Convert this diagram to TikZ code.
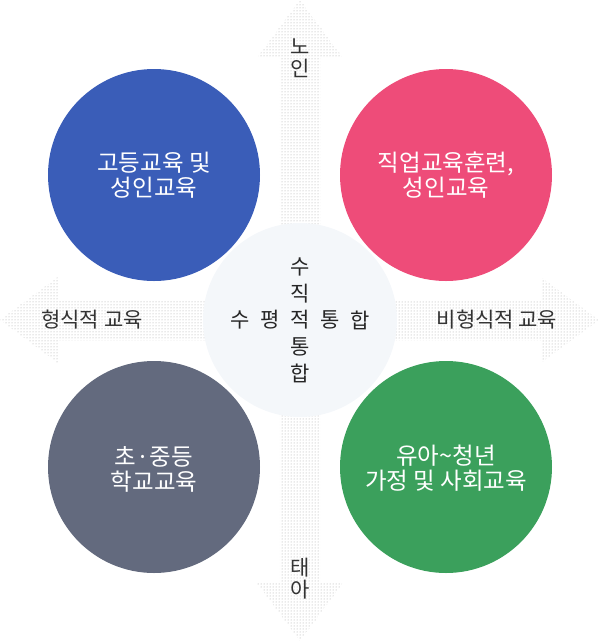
\documentclass[tikz,border=0pt]{standalone}
\usepackage{fontspec}
\setmainfont{Noto Sans CJK KR}
\usetikzlibrary{patterns}

\begin{document}
\begin{tikzpicture}[x=1pt, y=-1pt, line cap=round]

    % --- Definitions ---
    % Colors to match the image
    \definecolor{myblue}{RGB}{58, 93, 184}
    \definecolor{mypink}{RGB}{238, 76, 121}
    \definecolor{mygray}{RGB}{99, 106, 126}
    \definecolor{mygreen}{RGB}{59, 160, 92}
    \definecolor{mycenter}{RGB}{244, 247, 250}
    \definecolor{mytext}{RGB}{51, 51, 51}

    \tikzset{
        axisarrow/.style={pattern=dots, pattern color=black!35, draw=none},
        bigcircle/.style={circle, minimum size=212pt, inner sep=0pt, draw=none},
        circletext/.style={text=white, align=center, font=\fontsize{23.5}{25}\selectfont},
        axislabel/.style={text=mytext, font=\fontsize{21}{22}\selectfont},
        centerchar/.style={text=black!85, font=\fontsize{21}{22}\selectfont, inner sep=0pt}
    }

    % Sizes of the arrows
    \def\shaft{20.5}  % half width of the shaft
    \def\head{43}     % half width of the head
    \def\hlen{58}     % length of the head

    \useasboundingbox (0,0) rectangle (599,641);

    \coordinate (O) at (300,320);

    % --- Arrows ---
    % up (노인)
    \fill[axisarrow] (300-\shaft,320) -- (300-\shaft,\hlen) -- (300-\head,\hlen)
        -- (300,0) -- (300+\head,\hlen) -- (300+\shaft,\hlen) -- (300+\shaft,320) -- cycle;
    % down (태아)
    \fill[axisarrow] (300-\shaft,320) -- (300-\shaft,641-\hlen) -- (300-\head,641-\hlen)
        -- (300,641) -- (300+\head,641-\hlen) -- (300+\shaft,641-\hlen) -- (300+\shaft,320) -- cycle;
    % left (형식적 교육)
    \fill[axisarrow] (300,320-\shaft) -- (\hlen,320-\shaft) -- (\hlen,320-\head)
        -- (0,320) -- (\hlen,320+\head) -- (\hlen,320+\shaft) -- (300,320+\shaft) -- cycle;
    % right (비형식적 교육)
    \fill[axisarrow] (300,320-\shaft) -- (599-\hlen,320-\shaft) -- (599-\hlen,320-\head)
        -- (599,320) -- (599-\hlen,320+\head) -- (599-\hlen,320+\shaft) -- (300,320+\shaft) -- cycle;

    % --- Circles ---
    \node[bigcircle, fill=myblue] (higher) at (154,175) {};
    \node[bigcircle, fill=mypink] (vocational) at (446,175) {};
    \node[bigcircle, fill=mygray] (school) at (154,467) {};
    \node[bigcircle, fill=mygreen] (family) at (446,467) {};
    \node[circle, minimum size=194pt, inner sep=0pt, fill=mycenter] (center) at (O) {};

    \node[circletext] (highertext) at (higher) {고등교육 및\\성인교육};
    \node[circletext] (vocationaltext) at (vocational) {직업교육훈련,\\성인교육};
    \node[circletext] (schooltext) at ([yshift=-2pt]school) {초·중등\\학교교육};
    \node[circletext] (familytext) at ([yshift=-1pt]family) {유아\textasciitilde 청년\\가정 및 사회교육};

    % --- Axis labels ---
    \node[axislabel, align=center] (old) at (300,58) {노\\인};
    \node[axislabel, align=center] (fetus) at (300,579) {태\\아};
    \node[axislabel] (formal) at (92,320) {형식적 교육};
    \node[axislabel] (nonformal) at (497,320) {비형식적 교육};

    % --- Center text ---
    \foreach \c [count=\i] in {수,평,적,통,합}
        \node[centerchar] (h\i) at (240+\i*30-30,320) {\c};
    \foreach \c [count=\i] in {수,직}
        \node[centerchar] (v\i) at (300,267+\i*26.5-26.5) {\c};
    \foreach \c [count=\i] in {통,합}
        \node[centerchar] (w\i) at (300,346.5+\i*26.5-26.5) {\c};

\end{tikzpicture}
\end{document}
